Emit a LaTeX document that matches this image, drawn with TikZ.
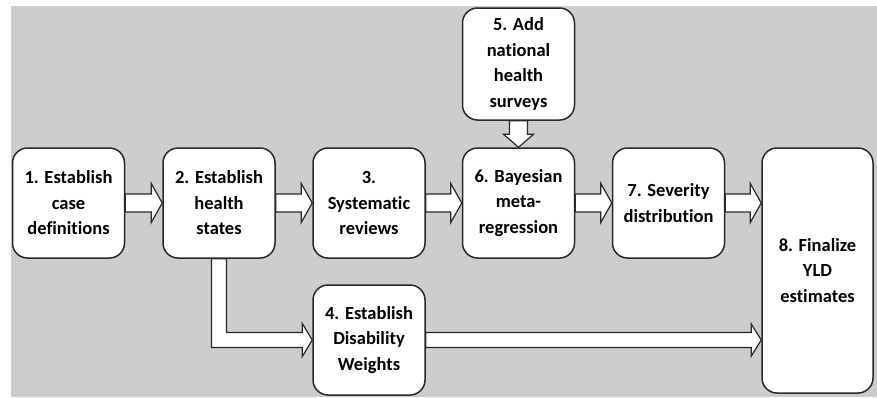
\documentclass[tikz,border=0pt]{standalone}
\usepackage{fontspec}
\setmainfont[Ligatures=NoCommon]{Carlito}
\usepackage{tikz}
\usetikzlibrary{calc}
\definecolor{bggray}{RGB}{205,205,205}
\definecolor{edgegray}{RGB}{40,40,40}
% horizontal block arrow: start, tip, shaft half width, head half width, head length
\newcommand{\harrow}[5]{%
  \draw[blockarrow] ($(#1)+(0,-#3)$) -- ($(#2)+(-#5,-#3)$) -- ($(#2)+(-#5,-#4)$) -- (#2)
    -- ($(#2)+(-#5,#4)$) -- ($(#2)+(-#5,#3)$) -- ($(#1)+(0,#3)$) -- cycle;}
% vertical block arrow (pointing down)
\newcommand{\varrow}[5]{%
  \draw[blockarrow] ($(#1)+(-#3,0)$) -- ($(#2)+(-#3,-#5)$) -- ($(#2)+(-#4,-#5)$) -- (#2)
    -- ($(#2)+(#4,-#5)$) -- ($(#2)+(#3,-#5)$) -- ($(#1)+(#3,0)$) -- cycle;}

\begin{document}
\begin{tikzpicture}[x=1pt, y=-1pt, line join=miter,
    stepbox/.style={draw=edgegray, line width=1.5pt, fill=white, rounded corners=15pt,
      minimum width=112pt, minimum height=110pt, align=center, inner sep=2pt,
      font=\fontsize{18.5}{25.5}\selectfont\bfseries},
    blockarrow/.style={draw=edgegray, line width=1.2pt, fill=white}]

  %--------------------------
  % Background
  %--------------------------
  \useasboundingbox (0,0) rectangle (877,397);
  \fill[bggray] (11,6) rectangle (877,397);

  %--------------------------
  % Steps
  %--------------------------
  \node[stepbox] (n1) at (68.5,203) {1. Establish\\case\\definitions};
  \node[stepbox] (n2) at (219,203) {2. Establish\\health\\states};
  \node[stepbox] (n3) at (369,203) {3.\\Systematic\\reviews};
  \node[stepbox] (n6) at (518.5,203) {6. Bayesian\\meta-\\regression};
  \node[stepbox] (n7) at (668.5,203) {7. Severity\\distribution};
  \node[stepbox, minimum height=112pt] (n5) at (518.5,64) {5. Add\\national\\health\\surveys};
  \node[stepbox] (n4) at (369,340) {4. Establish\\Disability\\Weights};
  \node[stepbox, minimum width=111pt, minimum height=245pt] (n8) at (817.5,270.5) {8. Finalize\\YLD\\estimates};

  %--------------------------
  % Block arrows
  %--------------------------
  \harrow{n1.east}{n2.west}{9}{19.5}{11}
  \harrow{n2.east}{n3.west}{9}{19.5}{11}
  \harrow{n3.east}{n6.west}{9}{19.5}{11}
  \harrow{n6.east}{n7.west}{9}{19.5}{11}
  \coordinate (t78) at (n7.east -| n8.west);
  \harrow{n7.east}{t78}{9}{19.5}{11}
  \coordinate (t48) at (n4.east -| n8.west);
  \harrow{n4.east}{t48}{7.5}{16}{10}
  \varrow{n5.south}{n6.north}{9}{15}{13}

  % elbow from step 2 down to step 4
  \coordinate (elb) at (n2.south |- n4.west);
  \draw[blockarrow] ($(n2.south)+(-7.5,0)$) -- ($(elb)+(-7.5,7.5)$) -- ($(n4.west)+(-10,7.5)$)
    -- ($(n4.west)+(-10,16.5)$) -- (n4.west) -- ($(n4.west)+(-10,-16.5)$)
    -- ($(n4.west)+(-10,-7.5)$) -- ($(elb)+(7.5,-7.5)$) -- ($(n2.south)+(7.5,0)$) -- cycle;

\end{tikzpicture}
\end{document}
